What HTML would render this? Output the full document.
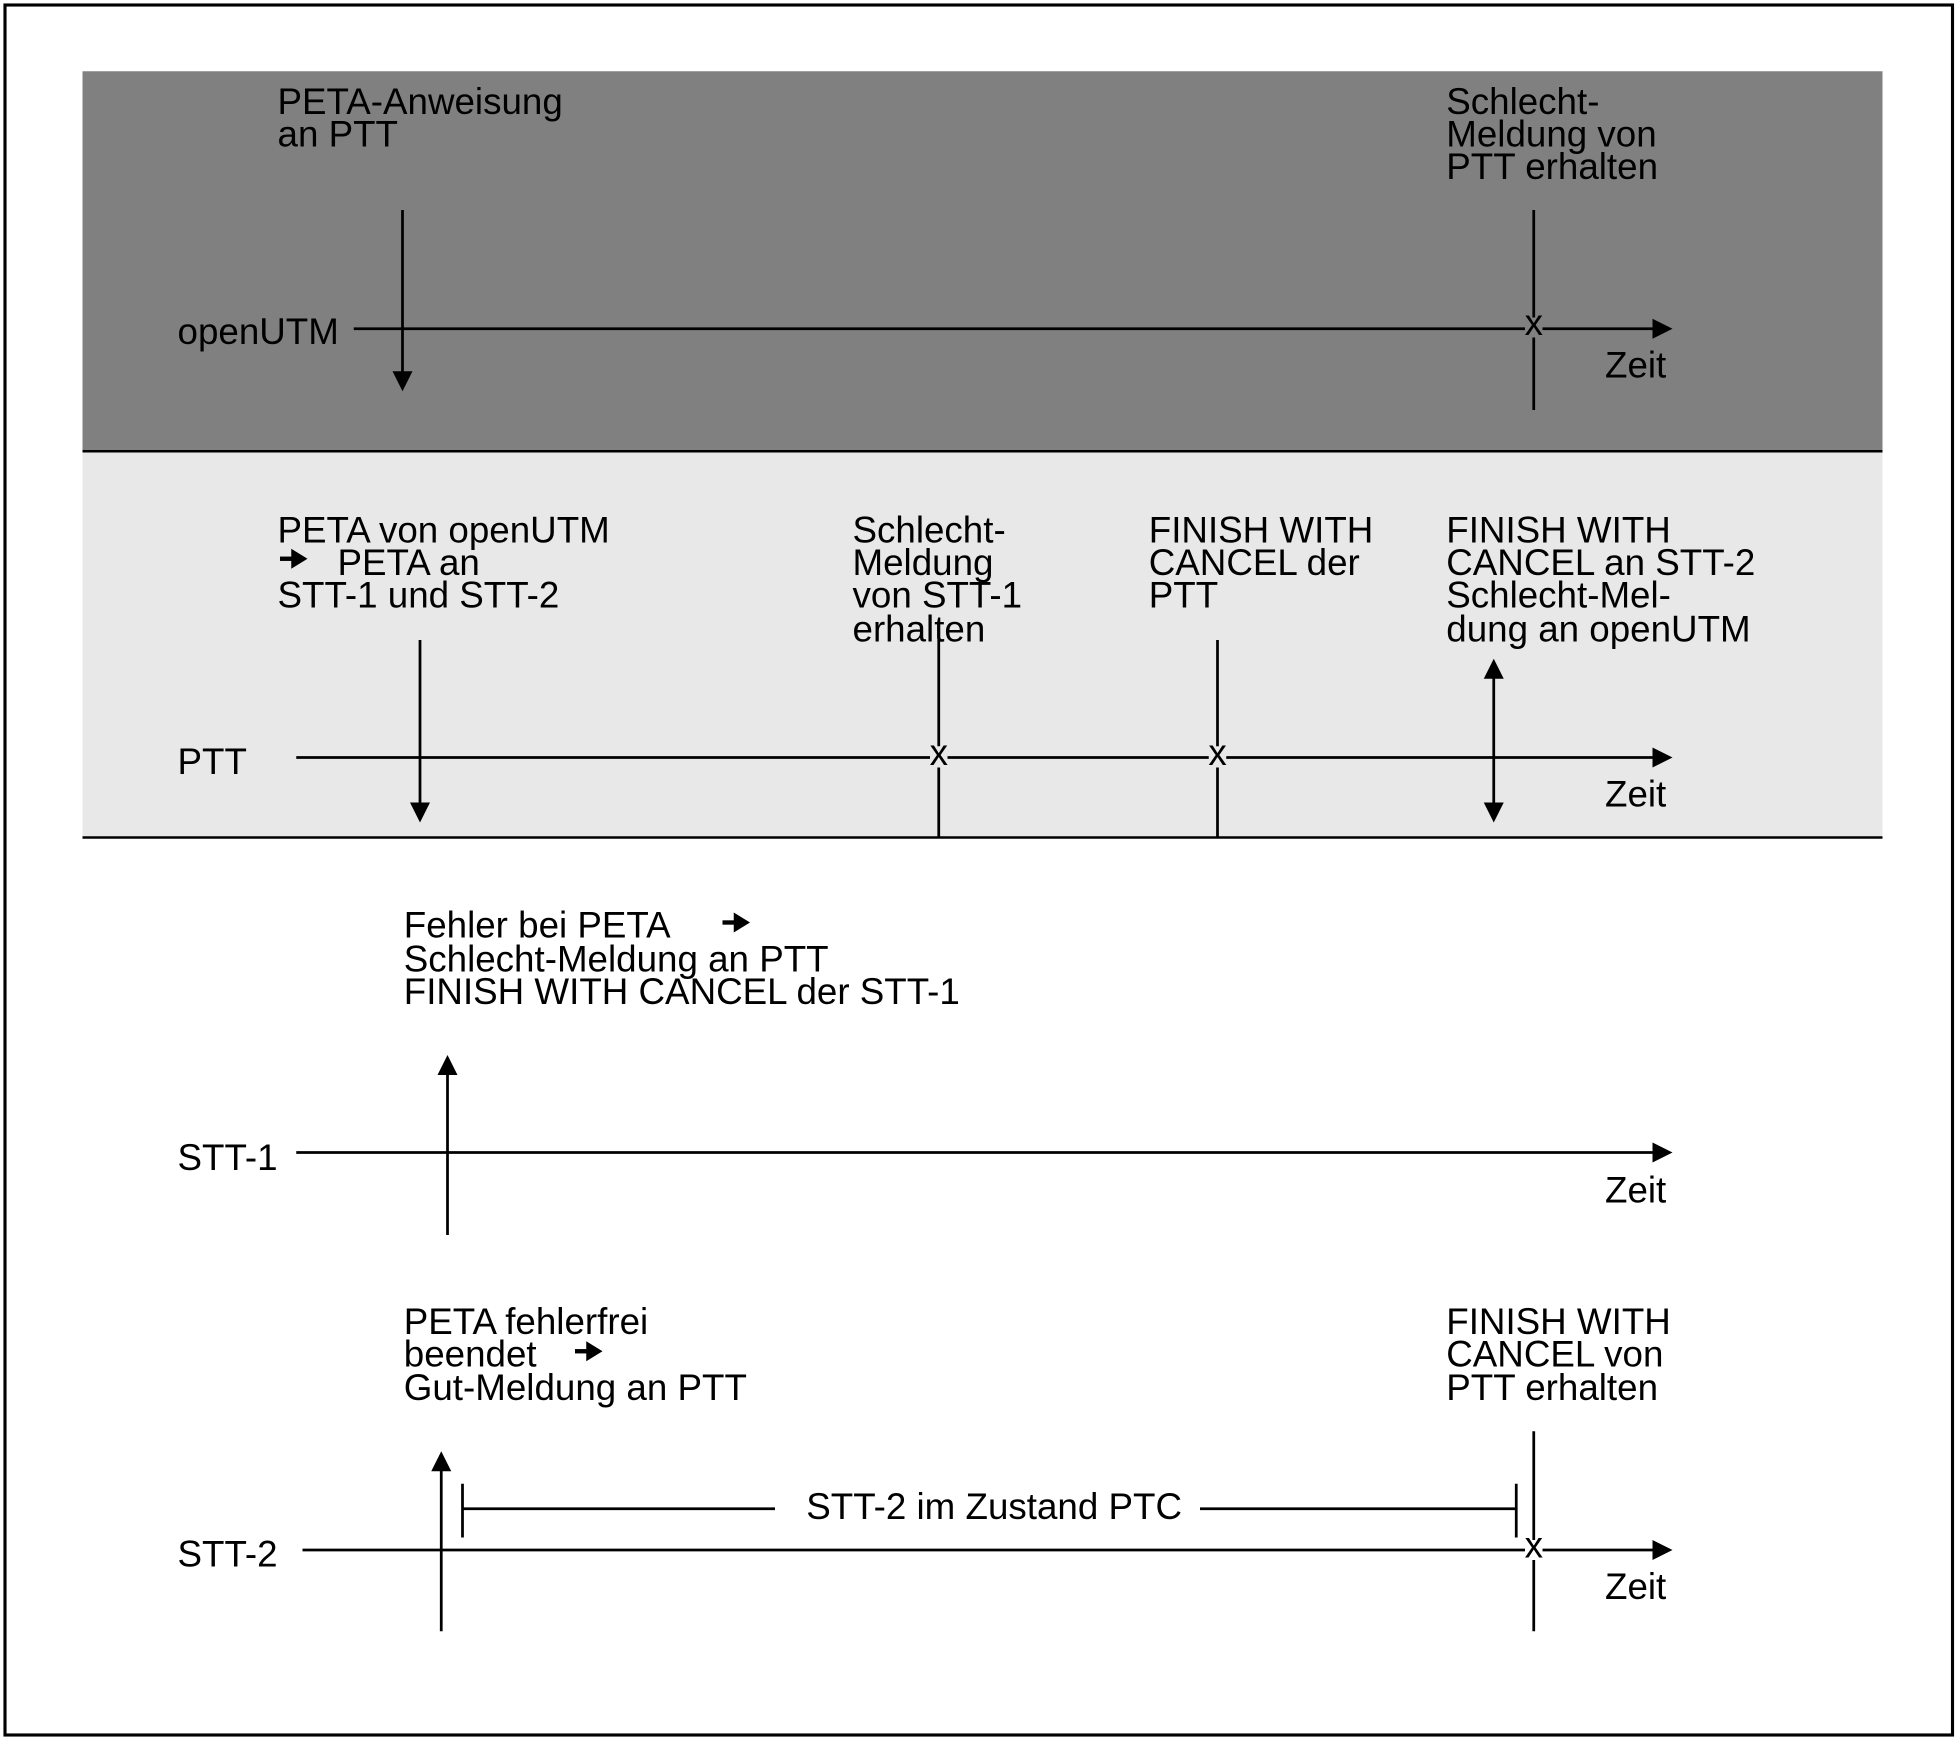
<!DOCTYPE html>
<html><head><meta charset="utf-8"><style>
html,body{margin:0;padding:0;background:#fff}
svg{display:block}
text{font-family:"Liberation Sans",Arial,sans-serif;font-size:29.4px;fill:#000}
</style></head><body>
<svg width="1960" height="1741" viewBox="0 0 1568 1392.8" xmlns="http://www.w3.org/2000/svg">
<rect x="0" y="0" width="1568" height="1393" fill="#fff"/>
<rect x="4" y="4" width="1558" height="1384" fill="none" stroke="#000" stroke-width="2.5"/>
<rect x="66" y="57" width="1440" height="304" fill="#808080"/>
<rect x="66" y="361" width="1440" height="309" fill="#e8e8e8"/>
<line x1="66" y1="361" x2="1506" y2="361" stroke="#000" stroke-width="2"/>
<line x1="66" y1="670" x2="1506" y2="670" stroke="#000" stroke-width="2"/>
<g stroke="#000" stroke-width="2.2" fill="none">
<line x1="283" y1="263" x2="1330" y2="263"/>
<line x1="322" y1="168" x2="322" y2="300"/>
<line x1="1227" y1="168" x2="1227" y2="328"/>
<line x1="237" y1="606" x2="1330" y2="606"/>
<line x1="336" y1="512" x2="336" y2="645"/>
<line x1="751" y1="512" x2="751" y2="670"/>
<line x1="974" y1="512" x2="974" y2="670"/>
<line x1="1195" y1="540" x2="1195" y2="645"/>
<line x1="237" y1="922" x2="1330" y2="922"/>
<line x1="358" y1="988" x2="358" y2="858"/>
<line x1="242" y1="1240" x2="1330" y2="1240"/>
<line x1="353" y1="1305" x2="353" y2="1175"/>
<line x1="1227" y1="1145" x2="1227" y2="1305"/>
<line x1="370" y1="1187" x2="370" y2="1230"/>
<line x1="370" y1="1207" x2="620" y2="1207"/>
<line x1="960" y1="1207" x2="1213" y2="1207"/>
<line x1="1213" y1="1187" x2="1213" y2="1230"/>
</g>
<g stroke="#000" stroke-width="3.5">
<line x1="224" y1="447" x2="236" y2="447"/>
<line x1="578" y1="738" x2="590" y2="738"/>
<line x1="460" y1="1081" x2="472" y2="1081"/>
</g>
<g fill="#000">
<path d="M1322,255 L1338,263 L1322,271 z"/>
<path d="M1322,598 L1338,606 L1322,614 z"/>
<path d="M1322,914 L1338,922 L1322,930 z"/>
<path d="M1322,1232 L1338,1240 L1322,1248 z"/>
<path d="M314,297 L322,313 L330,297 z"/>
<path d="M328,642 L336,658 L344,642 z"/>
<path d="M1187,642 L1195,658 L1203,642 z"/>
<path d="M1187,543 L1195,527 L1203,543 z"/>
<path d="M350,860 L358,844 L366,860 z"/>
<path d="M345,1177 L353,1161 L361,1177 z"/>
<path d="M233,439 L246,447 L233,455 z"/>
<path d="M587,730 L600,738 L587,746 z"/>
<path d="M469,1073 L482,1081 L469,1089 z"/>
</g>
<rect x="1220" y="254" width="14" height="16" fill="#808080"/>
<rect x="744" y="597" width="14" height="17" fill="#e8e8e8"/>
<rect x="967" y="597" width="14" height="17" fill="#e8e8e8"/>
<rect x="1220" y="1232" width="14" height="16" fill="#fff"/>
<g style="font-size:20px" text-anchor="middle">
<text x="1227" y="268">x</text>
<text x="751" y="612">x</text>
<text x="974" y="612">x</text>
<text x="1227" y="1246">x</text>
</g>
<text x="142" y="275">openUTM</text>
<text x="142" y="619">PTT</text>
<text x="142" y="936">STT-1</text>
<text x="142" y="1253">STT-2</text>
<text x="1284" y="302">Zeit</text>
<text x="1284" y="645">Zeit</text>
<text x="1284" y="962">Zeit</text>
<text x="1284" y="1279">Zeit</text>

<text x="222" y="91">PETA-Anweisung</text>
<text x="222" y="117">an PTT</text>
<text x="1157" y="91">Schlecht-</text>
<text x="1157" y="117">Meldung von</text>
<text x="1157" y="143">PTT erhalten</text>

<text x="222" y="434">PETA von openUTM</text>
<text x="270" y="460">PETA an</text>
<text x="222" y="486">STT-1 und STT-2</text>
<text x="682" y="434">Schlecht-</text>
<text x="682" y="460">Meldung</text>
<text x="682" y="486">von STT-1</text>
<text x="682" y="513">erhalten</text>
<text x="919" y="434">FINISH WITH</text>
<text x="919" y="460">CANCEL der</text>
<text x="919" y="486">PTT</text>
<text x="1157" y="434">FINISH WITH</text>
<text x="1157" y="460">CANCEL an STT-2</text>
<text x="1157" y="486">Schlecht-Mel-</text>
<text x="1157" y="513">dung an openUTM</text>

<text x="323" y="750">Fehler bei PETA</text>
<text x="323" y="777">Schlecht-Meldung an PTT</text>
<text x="323" y="803">FINISH WITH CANCEL der STT-1</text>

<text x="323" y="1067">PETA fehlerfrei</text>
<text x="323" y="1093">beendet</text>
<text x="323" y="1120">Gut-Meldung an PTT</text>
<text x="1157" y="1067">FINISH WITH</text>
<text x="1157" y="1093">CANCEL von</text>
<text x="1157" y="1120">PTT erhalten</text>
<text x="645" y="1215">STT-2 im Zustand PTC</text>
</svg>
</body></html>
